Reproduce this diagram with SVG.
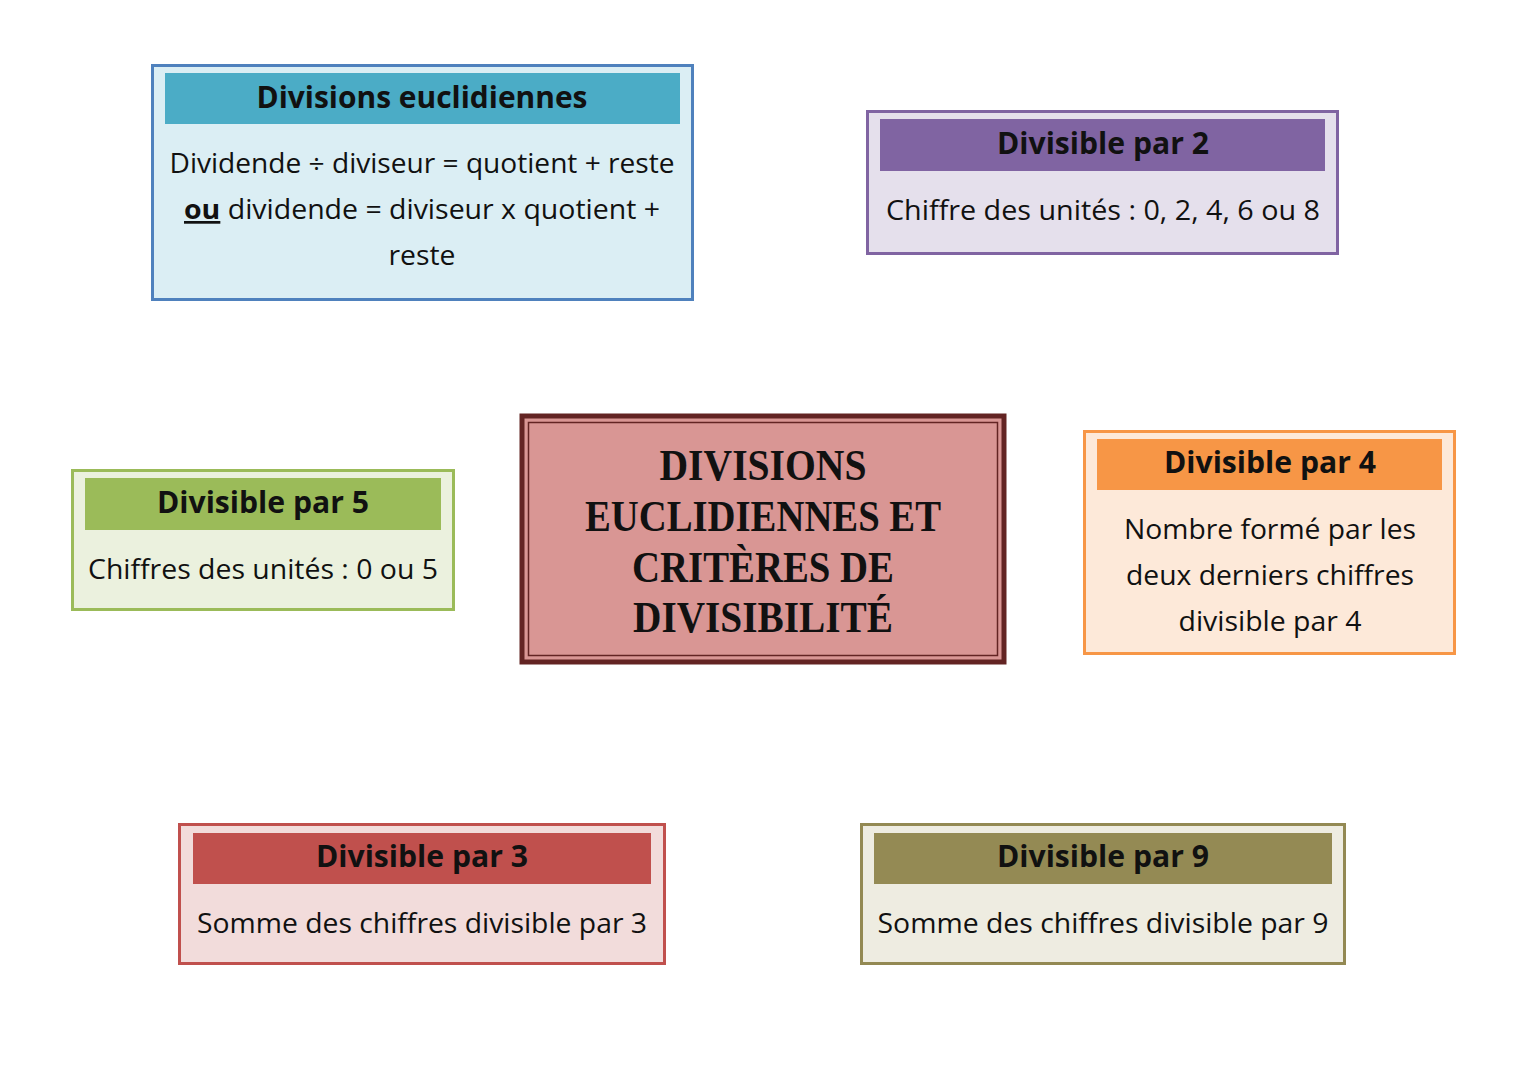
<svg xmlns="http://www.w3.org/2000/svg" width="1527" height="1080" viewBox="0 0 1527 1080">
<style>
.h{font-family:"Open Sans","Noto Sans",sans-serif;font-weight:bold;font-size:30px;fill:#111;text-anchor:middle}
.b{font-family:"Open Sans","Noto Sans",sans-serif;font-size:27px;fill:#111;text-anchor:middle}
.t{font-family:"Liberation Serif","DejaVu Serif",serif;font-weight:bold;font-size:44px;fill:#111;text-anchor:middle}
</style>
<rect width="1527" height="1080" fill="#ffffff"/>
<g id="connectors"/>
<g id="euclid">
<rect x="152.5" y="65.5" width="540" height="234" fill="#dbeef4" stroke="#4f81bd" stroke-width="3"/>
<rect x="165" y="73" width="515" height="51" fill="#4bacc6"/>
<text class="h" x="422" y="108" textLength="331" lengthAdjust="spacingAndGlyphs">Divisions euclidiennes</text>
<text class="b" x="422" y="173" textLength="505" lengthAdjust="spacingAndGlyphs">Dividende ÷ diviseur = quotient + reste</text>
<text class="b" x="422" y="219" textLength="476" lengthAdjust="spacingAndGlyphs"><tspan font-weight="bold" text-decoration="underline">ou</tspan> dividende = diviseur x quotient +</text>
<text class="b" x="422" y="265" textLength="67" lengthAdjust="spacingAndGlyphs">reste</text>
</g>
<g id="par2">
<rect x="867.5" y="111.5" width="470" height="142" fill="#e5e0ec" stroke="#8064a2" stroke-width="3"/>
<rect x="880" y="119" width="445" height="52" fill="#8064a2"/>
<text class="h" x="1103" y="154" textLength="212" lengthAdjust="spacingAndGlyphs">Divisible par 2</text>
<text class="b" x="1103" y="220" textLength="434" lengthAdjust="spacingAndGlyphs">Chiffre des unités : 0, 2, 4, 6 ou 8</text>
</g>
<g id="par5">
<rect x="72.5" y="470.5" width="381" height="139" fill="#ebf1de" stroke="#9bbb59" stroke-width="3"/>
<rect x="85" y="478" width="356" height="52" fill="#9bbb59"/>
<text class="h" x="263" y="513" textLength="212" lengthAdjust="spacingAndGlyphs">Divisible par 5</text>
<text class="b" x="263" y="579" textLength="350" lengthAdjust="spacingAndGlyphs">Chiffres des unités : 0 ou 5</text>
</g>
<g id="center">
<rect x="522" y="416" width="482" height="246" fill="#d99694" stroke="#632423" stroke-width="5"/>
<rect x="528.5" y="422.5" width="469" height="233" fill="none" stroke="#632423" stroke-width="1.5"/>
<text class="t" x="763" y="480" textLength="207" lengthAdjust="spacingAndGlyphs">DIVISIONS</text>
<text class="t" x="763" y="531" textLength="356" lengthAdjust="spacingAndGlyphs">EUCLIDIENNES ET</text>
<text class="t" x="763" y="582" textLength="262" lengthAdjust="spacingAndGlyphs">CRITÈRES DE</text>
<text class="t" x="763" y="632" textLength="260" lengthAdjust="spacingAndGlyphs">DIVISIBILITÉ</text>
</g>
<g id="par4">
<rect x="1084.5" y="431.5" width="370" height="222" fill="#fde9d9" stroke="#f79646" stroke-width="3"/>
<rect x="1097" y="439" width="345" height="51" fill="#f79646"/>
<text class="h" x="1270" y="473" textLength="212" lengthAdjust="spacingAndGlyphs">Divisible par 4</text>
<text class="b" x="1270" y="539" textLength="292" lengthAdjust="spacingAndGlyphs">Nombre formé par les</text>
<text class="b" x="1270" y="585" textLength="288" lengthAdjust="spacingAndGlyphs">deux derniers chiffres</text>
<text class="b" x="1270" y="631" textLength="183" lengthAdjust="spacingAndGlyphs">divisible par 4</text>
</g>
<g id="par3">
<rect x="179.5" y="824.5" width="485" height="139" fill="#f2dcdb" stroke="#c0504d" stroke-width="3"/>
<rect x="193" y="833" width="458" height="51" fill="#c0504d"/>
<text class="h" x="422" y="867" textLength="212" lengthAdjust="spacingAndGlyphs">Divisible par 3</text>
<text class="b" x="422" y="933" textLength="450" lengthAdjust="spacingAndGlyphs">Somme des chiffres divisible par 3</text>
</g>
<g id="par9">
<rect x="861.5" y="824.5" width="483" height="139" fill="#eeece1" stroke="#938953" stroke-width="3"/>
<rect x="874" y="833" width="458" height="51" fill="#948a54"/>
<text class="h" x="1103" y="867" textLength="212" lengthAdjust="spacingAndGlyphs">Divisible par 9</text>
<text class="b" x="1103" y="933" textLength="451" lengthAdjust="spacingAndGlyphs">Somme des chiffres divisible par 9</text>
</g>
</svg>
